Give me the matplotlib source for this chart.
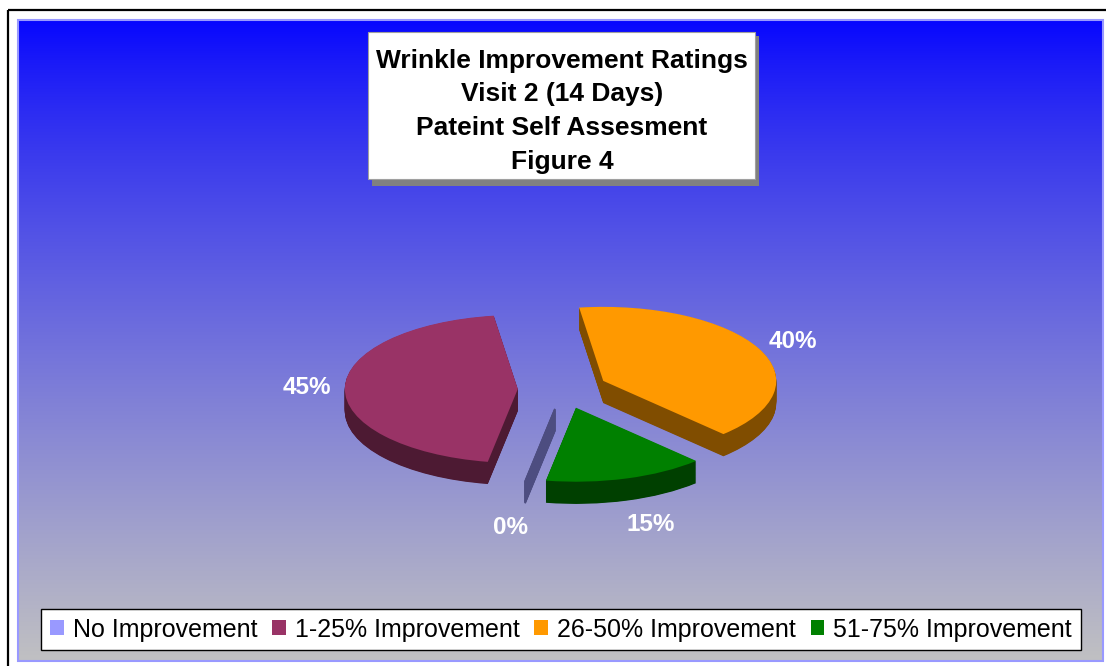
import numpy as np
import matplotlib
matplotlib.use('Agg')
import matplotlib.pyplot as plt
from matplotlib.patches import Rectangle, Patch

# data
labels = ['No Improvement', '1-25% Improvement', '26-50% Improvement', '51-75% Improvement']
values = [0, 45, 40, 15]
colors = ['#9999FF', '#993366', '#FF9900', '#008000']
title_lines = ['Wrinkle Improvement Ratings', 'Visit 2 (14 Days)',
               'Pateint Self Assesment', 'Figure 4']

plt.rcParams['font.family'] = ['Liberation Sans', 'DejaVu Sans']

W, H = 1106, 666
fig = plt.figure(figsize=(W / 100, H / 100), dpi=100)

# background layer in pixel coordinates
bg = fig.add_axes([0, 0, 1, 1])
bg.set_xlim(0, W)
bg.set_ylim(H, 0)
bg.axis('off')

bg.plot([8, 8], [10, H], color='black', lw=1.6, solid_capstyle='butt')
bg.plot([8, W], [10, 10], color='black', lw=1.6, solid_capstyle='butt')

# blue -> gray gradient plot area
t = np.linspace(0, 1, 256) ** 0.8
top = np.array([5, 5, 255]) / 255
bot = np.array([192, 192, 194]) / 255
grad = (top + (bot - top) * t[:, None])[:, None, :]
bg.imshow(grad, extent=(18, 1103, 661, 20), aspect='auto', interpolation='bilinear', zorder=0)
bg.add_patch(Rectangle((18, 20), 1085, 641, fill=False, edgecolor='#9999FF', lw=1.5, zorder=1))

# title box with shadow
bg.add_patch(Rectangle((372, 36), 387, 150, facecolor='#808080', edgecolor='none', zorder=2))
bg.add_patch(Rectangle((368, 32), 387, 147, facecolor='white', edgecolor='#a0a0a0', lw=0.8, zorder=3))
for i, line in enumerate(title_lines):
    bg.text(562, 61 + i * 33.5, line, ha='center', va='center', fontsize=19,
            fontweight='bold', color='black', zorder=4)

# pseudo 3D pie: stack darker copies underneath
ax = fig.add_axes([18 / W, 5 / H, 1085 / W, 641 / H])
ax.patch.set_alpha(0)
cx, cy, rx, ry = 562.8, 389.3, 173, 74
depth = 0.30
explode = [0.26] * len(values)
start = -100
dark = [tuple(0.5 * c for c in matplotlib.colors.to_rgb(col)) for col in colors]

n = 40
for k in range(n, 0, -1):
    wedges, _ = ax.pie(values, colors=dark, explode=explode, startangle=start,
                       counterclock=False, center=(0, -depth * k / n),
                       wedgeprops=dict(linewidth=0))
    for w, v in zip(wedges, values):
        if v == 0:
            w.set_edgecolor(dark[0])
            w.set_linewidth(1.3)

wedges, texts, autotexts = ax.pie(values, colors=colors, explode=explode, startangle=start,
                                  counterclock=False, autopct='%1.0f%%', pctdistance=1.22,
                                  textprops=dict(color='white', fontsize=17.5, fontweight='bold'),
                                  wedgeprops=dict(linewidth=0))
# labels under the pie sit below the side wall
for at in autotexts:
    x, y = at.get_position()
    if y < 0:
        at.set_position((x * 1.17, y - depth - 0.11))

ax.set_aspect('auto')
ax.set_xlim((18 - cx) / rx, (1103 - cx) / rx)
ax.set_ylim((cy - 661) / ry, (cy - 20) / ry)
ax.axis('off')

# legend
handles = [Patch(facecolor=c, edgecolor='none') for c in colors]
leg = fig.legend(handles, labels, loc='center', bbox_to_anchor=(561 / W, 1 - 629.5 / H),
                 ncol=4, fontsize=18, frameon=True, fancybox=False, edgecolor='black',
                 framealpha=1, handlelength=0.55, handleheight=0.55, handletextpad=0.35,
                 columnspacing=0.6, borderpad=0.35, borderaxespad=0)
leg.get_frame().set_linewidth(1.0)

fig.savefig('out.png', dpi=100)
